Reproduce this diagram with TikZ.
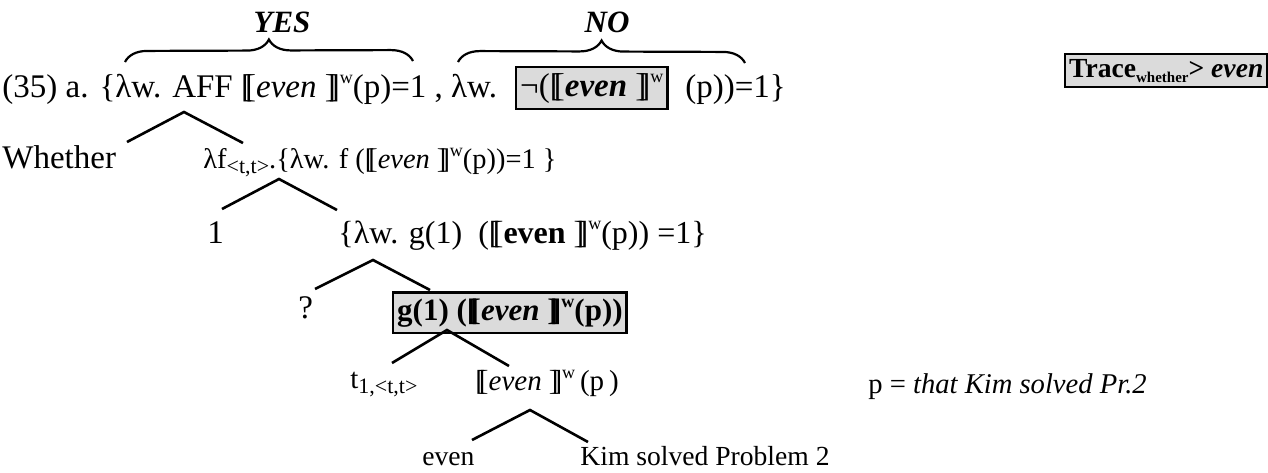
\documentclass[tikz,border=0pt]{standalone}
\usepackage{fontspec}
\setmainfont{Liberation Serif}
\usetikzlibrary{decorations.pathreplacing}
\newcommand\dlb{[\kern-0.21em[}
\newcommand\drb{]\kern-0.21em]}
\newcommand\lsub[2][9]{\raisebox{-0.4ex}{\fontsize{#1}{10}\selectfont #2}}
\newcommand\lsup[1]{\raisebox{0.9ex}{\fontsize{9}{10}\selectfont #1}}
\tikzset{
  txt/.style={anchor=base west, inner sep=0pt, font=\fontsize{13.8}{16}\selectfont},
  big/.style={font=\fontsize{16.5}{19}\selectfont},
  hbox/.style={txt, draw, line width=1.2pt, fill=gray!28, inner xsep=2pt, inner ysep=3pt},
  treeline/.style={line width=1.3pt},
  brc/.style={decorate, decoration={brace, amplitude=11pt}, line width=1.1pt},
}
\begin{document}
\begin{tikzpicture}[x=0.5pt,y=-0.5pt]
\useasboundingbox (0,0) rectangle (1268,472);
% line 1
\node[txt, big] (l1a) at (2,97) {(35) a. \{λw. AFF \dlb\textit{even} \drb\lsup{w}(p)=1 , λw.};
\node[hbox, big, inner ysep=3pt] (neg) at (515,96) {¬(\dlb\textbf{\textit{even}} \drb\lsup{w}};
\node[txt, big] (l1c) at (685,97) {(p))=1\}};
\node[txt, anchor=base, font=\fontsize{15.5}{18}\selectfont] (yes) at (282,32) {\textbf{\textit{YES}}};
\node[txt, anchor=base, font=\fontsize{15.5}{18}\selectfont] (no) at (607,32) {\textbf{\textit{NO}}};
\coordinate (yesL) at (125,62);
\coordinate (yesR) at (413,61);
\coordinate (noL) at (458,62);
\coordinate (noR) at (745,63);
\draw[brc] (yesL) -- (yesR);
\draw[brc] (noL) -- (noR);
\node[hbox, inner ysep=2.5pt] (trace) at (1064,77) {\textbf{Trace\lsub[7.5]{whether}> \textit{even}}};
% line 2
\node[txt, big] (whether) at (2,168) {Whether};
\node[txt, font=\fontsize{14.2}{17}\selectfont] (lamf) at (203,168) {λf\lsub[11]{<t,t>}.\{λw. f (\dlb\textit{even} \drb\lsup{w}(p))=1 \}};
% line 3
\node[txt, big] (one) at (207,243) {1};
\node[txt, font=\fontsize{16}{19}\selectfont] (lamg) at (338,243) {\{λw. g(1)\ \ (\dlb\textbf{even} \drb\lsup{w}(p)) =1\}};
% line 4
\node[txt, big] (q) at (298,318) {?};
\node[hbox, font=\fontsize{15.5}{18}\selectfont] (gbox) at (392,320) {\textbf{g(1) (\dlb\textit{even} \drb\lsup{w}(p))}};
% line 5
\node[txt, font=\fontsize{14.5}{17}\selectfont] (t) at (350,388) {t\lsub[11]{1,<t,t>}};
\node[txt, font=\fontsize{14.5}{17}\selectfont] (evp) at (475,390) {\dlb\textit{even}\ \drb\lsup{w}\,(p\,)};
\node[txt, font=\fontsize{14.3}{17}\selectfont] (pdef) at (868,393) {p = \textit{that Kim solved Pr.2}};
% line 6
\node[txt] (even) at (422,465) {even};
\node[txt] (kim) at (580,465) {Kim solved Problem 2};
% trees
\coordinate (a1) at (184,112); \coordinate (a1l) at (127,142); \coordinate (a1r) at (243,143);
\coordinate (a2) at (279,179); \coordinate (a2l) at (222,209); \coordinate (a2r) at (337,210);
\coordinate (a3) at (373,260); \coordinate (a3l) at (315,289); \coordinate (a3r) at (430,290);
\coordinate (a4) at (447,330); \coordinate (a4l) at (392,363); \coordinate (a4r) at (509,366);
\coordinate (a5) at (530,410); \coordinate (a5l) at (472,440); \coordinate (a5r) at (588,442);
\draw[treeline] (a1l) -- (a1) -- (a1r);
\draw[treeline] (a2l) -- (a2) -- (a2r);
\draw[treeline] (a3l) -- (a3) -- (a3r);
\draw[treeline] (a4l) -- (a4) -- (a4r);
\draw[treeline] (a5l) -- (a5) -- (a5r);
\end{tikzpicture}
\end{document}
